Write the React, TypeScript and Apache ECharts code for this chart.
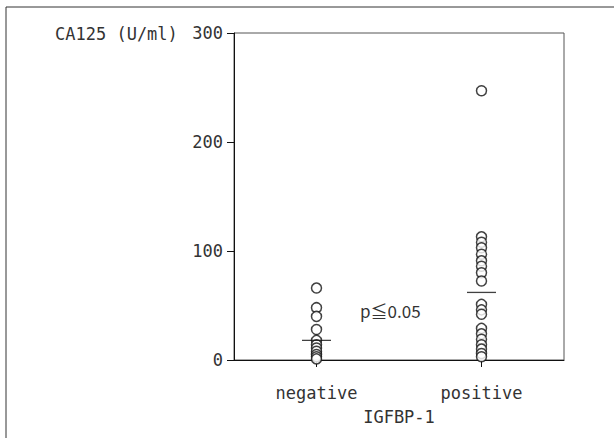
import React, { useEffect, useRef } from "react";
import * as echarts from "echarts";

const categories = ["negative", "positive"];
const negativeValues = [66, 48, 40, 28, 18, 14, 11, 8, 5, 3, 1];
const positiveValues = [247, 113, 108, 103, 97, 91, 86, 80, 72.5, 51, 46, 42, 29, 24, 19, 14, 10, 6, 3];
const meanValues = [18, 62];
const yTicks = { min: 0, max: 300, interval: 100 };
const yTitle = "CA125 (U/ml)";
const xTitle = "IGFBP-1";
const pText = "p≦0.05";

const FONT = "'DejaVu Sans Mono', 'Noto Sans CJK JP', monospace";
const INK = "#333333";

export default function App() {
  const ref = useRef<HTMLDivElement>(null);
  useEffect(() => {
    if (!ref.current) return;
    const chart = echarts.init(ref.current, null, { renderer: "svg" });
    const points: [string, number][] = [];
    negativeValues.forEach((v) => points.push([categories[0], v]));
    positiveValues.forEach((v) => points.push([categories[1], v]));
    const means = meanValues.map((v, i) => [categories[i], v]);
    chart.setOption({
      animation: false,
      backgroundColor: "#ffffff",
      grid: {
        left: 234,
        top: 33,
        width: 330,
        height: 327,
        show: true,
        borderColor: "#555",
        borderWidth: 1,
      },
      graphic: [
        {
          type: "rect",
          shape: { x: 6, y: 7, width: 640, height: 460 },
          style: { fill: "none", stroke: "#333", lineWidth: 1 },
          silent: true,
        },
        {
          type: "text",
          x: 55,
          y: 34,
          style: {
            text: yTitle,
            font: `17px ${FONT}`,
            fill: INK,
            verticalAlign: "middle",
          },
        },
        {
          type: "text",
          x: 360,
          y: 310,
          style: {
            text: pText,
            font: `17px 'Noto Sans CJK JP', ${FONT}`,
            fill: INK,
            verticalAlign: "middle",
          },
        },
      ],
      xAxis: {
        type: "category",
        data: categories,
        boundaryGap: true,
        name: xTitle,
        nameLocation: "middle",
        nameGap: 48,
        nameTextStyle: { fontFamily: FONT, fontSize: 17, color: INK },
        axisLine: { show: true, lineStyle: { color: "#111", width: 1 } },
        axisTick: { show: true, alignWithLabel: true, length: 7, lineStyle: { color: "#111" } },
        axisLabel: { margin: 24, fontFamily: FONT, fontSize: 17, color: INK },
        splitLine: { show: false },
      },
      yAxis: {
        type: "value",
        min: yTicks.min,
        max: yTicks.max,
        interval: yTicks.interval,
        axisLine: { show: true, lineStyle: { color: "#111", width: 1 } },
        axisTick: { show: true, length: 7, lineStyle: { color: "#111" } },
        axisLabel: { margin: 11, fontFamily: FONT, fontSize: 17, color: INK },
        splitLine: { show: false },
      },
      series: [
        {
          type: "scatter",
          data: points,
          symbol: "circle",
          symbolSize: 10,
          itemStyle: { color: "#ffffff", borderColor: "#111", borderWidth: 1.5 },
          z: 3,
        },
        {
          type: "scatter",
          data: means,
          symbol: "rect",
          symbolSize: [29, 1.3],
          itemStyle: { color: "#111" },
          z: 4,
        },
      ],
    });
    return () => chart.dispose();
  }, []);
  return (
    <div
      ref={ref}
      style={{ position: "fixed", left: 0, top: 0, width: 614, height: 438, background: "#fff" }}
    />
  );
}
